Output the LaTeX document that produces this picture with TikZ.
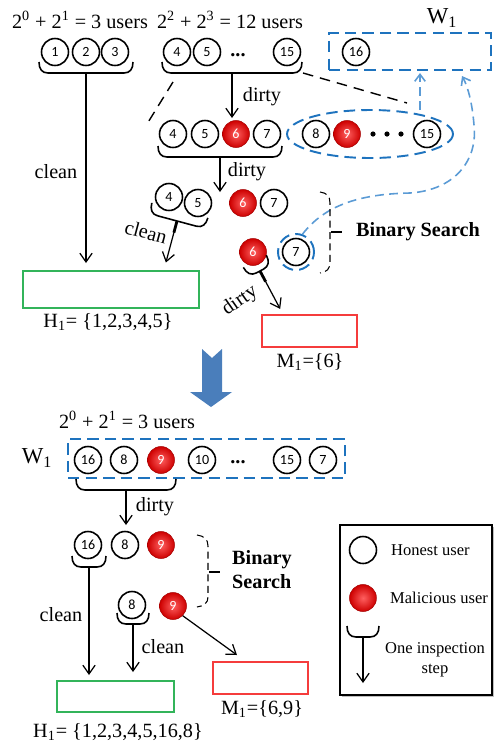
\documentclass[tikz,border=0pt]{standalone}
\usepackage{fontspec}
\setmainfont{Liberation Serif}
\newfontfamily\numfont{Carlito}
\usetikzlibrary{arrows.meta,fit,shapes.geometric}
\definecolor{wblue}{RGB}{30,115,190}
\definecolor{lblue}{RGB}{91,155,213}
\definecolor{hgreen}{RGB}{50,180,90}
\definecolor{mred}{RGB}{245,60,60}
\definecolor{bigblue}{RGB}{74,126,187}
\definecolor{ballin}{RGB}{255,95,95}
\definecolor{ballout}{RGB}{205,0,0}
\tikzset{
  honest/.style={circle,draw,line width=0.9pt,minimum size=0.54cm,inner sep=0pt,font=\numfont\fontsize{8}{8}\selectfont},
  malic/.style={circle,shading=radial,inner color=ballin,outer color=ballout,draw=ballout!80!black,line width=0.3pt,minimum size=0.54cm,inner sep=0pt,text=white,font=\numfont\fontsize{8}{8}\selectfont},
  lbl/.style={font=\fontsize{11.5}{13.6}\selectfont},
  wdash/.style={draw=wblue,line width=1.1pt,dash pattern=on 6.5pt off 3.5pt},
  hint/.style={draw=lblue,line width=0.9pt,dash pattern=on 5pt off 3pt,-{Straight Barb[length=4pt,width=6pt]}},
  zoomline/.style={line width=0.8pt,dash pattern=on 6pt off 4pt},
  bsbrace/.style={line width=0.6pt,dash pattern=on 4pt off 2.5pt},
  steparrow/.style={line width=0.7pt,-{Straight Barb[length=5pt,width=7pt]}},
  pics/insp/.style 2 args={code={
    \draw[line width=0.9pt] (-#1,-11) .. controls (-#1,-4) and (-#1+3,0) .. (-#1+9,0) -- (#1-9,0) .. controls (#1-3,0) and (#1,-4) .. (#1,-11);
    \draw[line width=1.6pt] (0,0) -- (0,12);
    \coordinate (-s) at (0,0);
    \coordinate (-t) at (0,#2);
  }},
}
\begin{document}
\begin{tikzpicture}[x=0.02cm,y=-0.02cm]
\useasboundingbox (0,0) rectangle (498,748);
% first window
\node[lbl] (t1) at (80,20) {2\textsuperscript{0} + 2\textsuperscript{1} = 3 users};
\node[lbl] (t2) at (230,20) {2\textsuperscript{2} + 2\textsuperscript{3} = 12 users};
\node[honest] (u1) at (55,52) {1};
\node[honest] (u2) at (86,52) {2};
\node[honest] (u3) at (115,52) {3};
\node[honest] (u4) at (177,52) {4};
\node[honest] (u5) at (207,52) {5};
\node[lbl,font=\fontsize{11.5}{13.6}\selectfont\bfseries] (dots1) at (238,55) {...};
\node[honest] (u15) at (287,52) {15};
\pic (bA) at (86,73) {insp={47}{190}};
\pic (bB) at (232,73) {insp={70}{45}};
\draw[steparrow] (bA-s) -- (bA-t);
\draw[steparrow] (bB-s) -- (bB-t);
\node[lbl] (lclean1) at (56,172) {clean};
\node[lbl] (ldirty1) at (262,97) {dirty};
% zoom lines
\coordinate (zl1) at (173,82);
\coordinate (zl2) at (147,124);
\coordinate (zr1) at (303,73);
\coordinate (zr2) at (407,103);
\draw[zoomline] (zl1) -- (zl2);
\draw[zoomline] (zr1) -- (zr2);
% W1 on top
\node[fit={(329,33) (491,70)},inner sep=0pt,wdash] (w1box) {};
\node[font=\fontsize{13}{15}\selectfont] (w1) at (442,18) {W\textsubscript{1}};
\node[honest] (w16) at (356,52) {16};
% second row
\node[honest] (v4) at (173,134) {4};
\node[honest] (v5) at (205,134) {5};
\node[malic] (v6) at (236,134) {6};
\node[honest] (v7) at (267,134) {7};
\node[ellipse,wdash,minimum width=3.32cm,minimum height=0.96cm] (grp) at (370,134) {};
\node[honest] (v8) at (316,134) {8};
\node[malic] (v9) at (347,134) {9};
\foreach \x in {373,387,401} \fill (\x,134) circle [radius=2.6];
\node[honest] (v15) at (427,134) {15};
\pic (bC) at (220,157) {insp={62}{35}};
\draw[steparrow] (bC-s) -- (bC-t);
\node[lbl] (ldirty2) at (247,172) {dirty};
\coordinate (ha) at (420,110);
\coordinate (hb) at (420,73);
\draw[hint] (ha) -- (hb);
% third row
\node[honest] (x4) at (169,197) {4};
\node[honest] (x5) at (198,203) {5};
\node[malic] (x6) at (243,203) {6};
\node[honest] (x7) at (274,203) {7};
\pic[rotate=-15] (bD) at (177,221) {insp={29}{43}};
\draw[steparrow] (bD-s) -- (bD-t);
\node[lbl,rotate=-15] (lclean2) at (146,232) {clean};
% fourth row
\node[malic] (y6) at (253,252) {6};
\node[honest] (y7) at (296,252) {7};
\node[circle,wdash,minimum size=0.72cm] (ring7) at (296,252) {};
\pic[rotate=28] (bE) at (260,271) {insp={13}{43}};
\draw[steparrow] (bE-s) -- (bE-t);
\node[lbl,rotate=35] (ldirty3) at (240,301) {dirty};
\draw[hint] (ring7.70) .. controls (325,205) and (360,194) .. (410,193)
  .. controls (455,190) and (478,160) .. (474,125) .. controls (472,100) and (467,85) .. (462,76);
% binary search
\draw[bsbrace] (320,192) .. controls (327,193) and (330,196) .. (330,203) -- (330,262) .. controls (330,269) and (327,272) .. (320,273);
\draw[line width=0.6pt] (331,232) -- (342,232);
\node[lbl,font=\fontsize{11.5}{13.6}\selectfont\bfseries] (bs1) at (418,232) {Binary Search};
% result boxes
\node[fit={(23,271) (199,308)},inner sep=0pt,draw=hgreen,line width=0.8pt] (hbox1) {};
\node[lbl] (h1) at (108,322) {H\textsubscript{1}= \{1,2,3,4,5\}};
\node[fit={(262,315) (357,347)},inner sep=0pt,draw=mred,line width=0.8pt] (mbox1) {};
\node[lbl] (m1) at (310,362) {M\textsubscript{1}=\{6\}};
% big arrow
\fill[bigblue] (202,349) -- (212,358) -- (222,349) -- (222,392) -- (232,392) -- (211,407) -- (190,392) -- (202,392) -- cycle;
% second window
\node[lbl] (t3) at (127,420) {2\textsuperscript{0} + 2\textsuperscript{1} = 3 users};
\node[font=\fontsize{13}{15}\selectfont] (w2) at (37,458) {W\textsubscript{1}};
\node[fit={(68,439) (345,478)},inner sep=0pt,wdash] (w2box) {};
\node[honest] (p16) at (88,460) {16};
\node[honest] (p8) at (124,460) {8};
\node[malic] (p9) at (161,460) {9};
\node[honest] (p10) at (202,460) {10};
\node[lbl,font=\fontsize{11.5}{13.6}\selectfont\bfseries] (dots2) at (238,462) {...};
\node[honest] (p15) at (287,460) {15};
\node[honest] (p7) at (323,460) {7};
\pic (bF) at (126,490) {insp={50}{35}};
\draw[steparrow] (bF-s) -- (bF-t);
\node[lbl] (ldirty4) at (155,507) {dirty};
\node[honest] (q16) at (88,545) {16};
\node[honest] (q8) at (125,545) {8};
\node[malic] (q9) at (161,545) {9};
\pic (bG) at (89,567) {insp={17}{108}};
\draw[steparrow] (bG-s) -- (bG-t);
\node[lbl] (lclean3) at (61,615) {clean};
\node[honest] (r8) at (132,605) {8};
\node[malic] (r9) at (173,606) {9};
\pic (bH) at (133,624) {insp={16}{48}};
\draw[steparrow] (bH-s) -- (bH-t);
\node[lbl] (lclean4) at (163,647) {clean};
\coordinate (mt) at (237,655);
\draw[steparrow] (r9.south east) -- (mt);
\draw[bsbrace] (197,535) .. controls (204,536) and (208,539) .. (208,546) -- (208,597) .. controls (208,603) and (204,606) .. (197,607);
\draw[line width=0.6pt] (209,572) -- (220,572);
\node[lbl,font=\fontsize{11.5}{13.6}\selectfont\bfseries,anchor=west,align=left] (bs2) at (226,570) {Binary\\Search};
\node[fit={(57,681) (174,712)},inner sep=0pt,draw=hgreen,line width=0.8pt] (hbox2) {};
\node[lbl] (h2) at (118,732) {H\textsubscript{1}= \{1,2,3,4,5,16,8\}};
\node[fit={(213,662) (308,694)},inner sep=0pt,draw=mred,line width=0.8pt] (mbox2) {};
\node[lbl] (m2) at (262,709) {M\textsubscript{1}=\{6,9\}};
% legend
\fill[black!25] (342,527) rectangle (494,697);
\node[fit={(340,525) (492,695)},inner sep=0pt,draw,fill=white,line width=0.7pt] (legend) {};
\node[honest] (lg1) at (363,550) {};
\node[anchor=west,font=\fontsize{9.4}{11.3}\selectfont] (lt1) at (385,550) {Honest user};
\node[malic] (lg2) at (363,598) {};
\node[anchor=west,font=\fontsize{9.4}{11.3}\selectfont] (lt2) at (384,598) {Malicious user};
\pic (bL) at (363,637) {insp={16}{46}};
\draw[steparrow] (bL-s) -- (bL-t);
\node[align=center,font=\fontsize{9.4}{11.3}\selectfont] (lt3) at (435,660) {One inspection\\step};
\end{tikzpicture}
\end{document}
